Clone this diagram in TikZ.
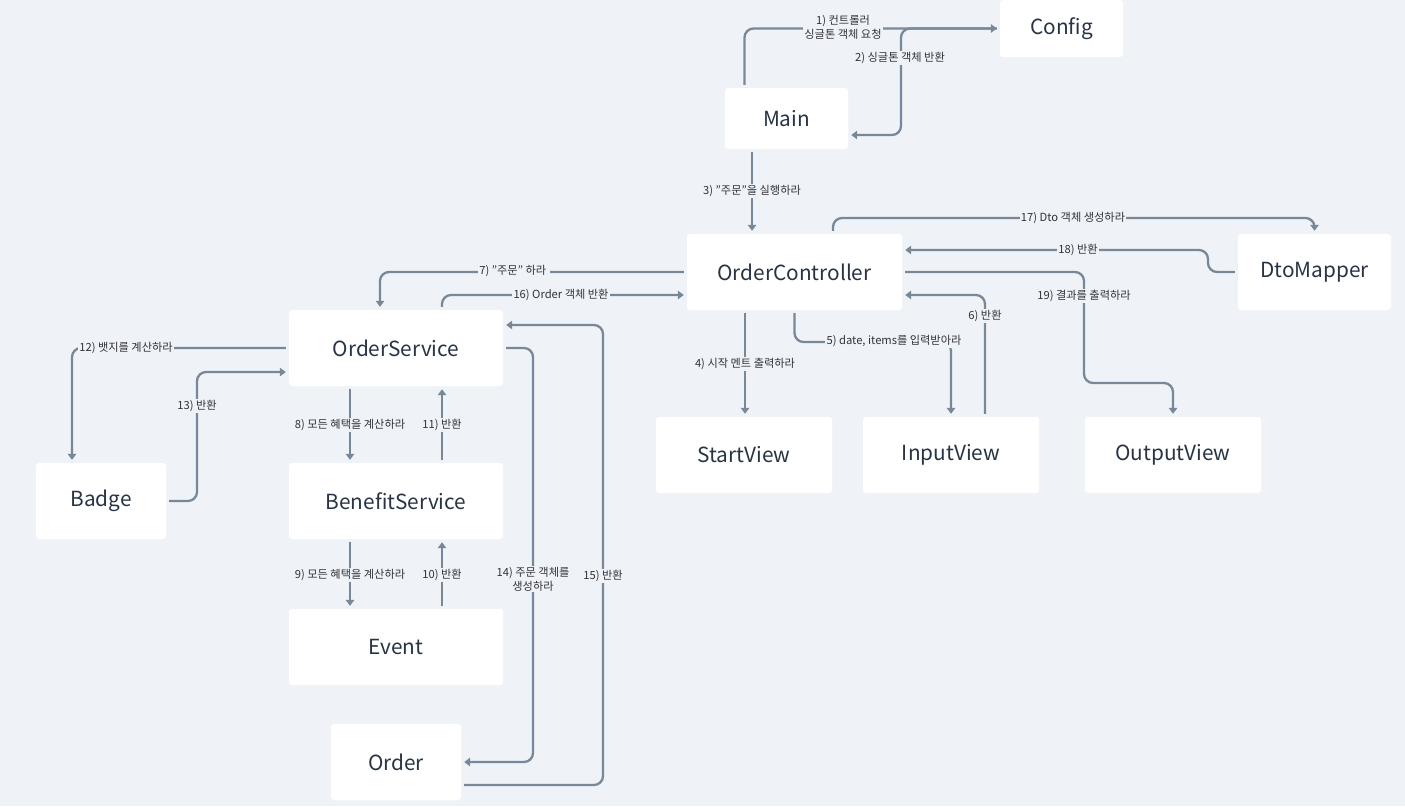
\documentclass[tikz,border=0pt]{standalone}
\usepackage{fontspec}
\setmainfont{Noto Sans CJK KR}
\usetikzlibrary{arrows.meta}
\definecolor{bg}{RGB}{239,243,247}
\definecolor{ln}{RGB}{120,136,153}
\definecolor{tx}{RGB}{40,52,68}
\definecolor{lt}{RGB}{50,50,55}
\tikzset{
  box/.style={fill=white, rounded corners=3pt, text=tx, font=\fontsize{20.8}{24}\selectfont, inner sep=0pt},
  conn/.style={draw=ln, line width=2.3pt, rounded corners=9pt, -{Triangle[length=6pt,width=8.5pt]}, shorten >=3pt, shorten <=3pt},
  lbl/.style={fill=bg, text=lt, font=\fontsize{11.2}{14}\selectfont, inner sep=1.2pt, align=center}
}
\begin{document}
\begin{tikzpicture}[x=1pt,y=-1pt]
\useasboundingbox (0,0) rectangle (1405,806);
\fill[bg] (0,0) rectangle (1405,806);
% nodes
\node[box, minimum width=123pt, minimum height=57pt] (config) at (1061.5,28.5) {Config};
\node[box, minimum width=123pt, minimum height=61pt] (main) at (786.5,118.5) {Main};
\node[box, minimum width=215pt, minimum height=76pt] (oc) at (794.5,272) {OrderController};
\node[box, minimum width=153pt, minimum height=76pt] (dto) at (1314.5,272) {DtoMapper};
\node[box, minimum width=176pt, minimum height=76pt] (startv) at (744,455) {StartView};
\node[box, minimum width=176pt, minimum height=76pt] (inv) at (951,455) {InputView};
\node[box, minimum width=176pt, minimum height=76pt] (outv) at (1173,455) {OutputView};
\node[box, minimum width=214pt, minimum height=76pt] (os) at (396,348) {OrderService};
\node[box, minimum width=214pt, minimum height=76pt] (bs) at (396,501) {BenefitService};
\node[box, minimum width=214pt, minimum height=76pt] (ev) at (396,647) {Event};
\node[box, minimum width=130pt, minimum height=76pt] (badge) at (101,501) {Badge};
\node[box, minimum width=130pt, minimum height=76pt] (order) at (396,762) {Order};
% bend coordinates
\coordinate (c2) at (901,135);
\coordinate (c17) at (833,218);
\coordinate (c18) at (1208,250);
\coordinate (c19) at (1084,383);
\coordinate (c6) at (985,295);
\coordinate (c5) at (794.5,342);
\coordinate (c13) at (197,372);
\coordinate (c14) at (533,349);
\coordinate (c15) at (603,325);
% connectors
\draw[conn] ([xshift=-42pt]main.north) |- (config.west);
\draw[conn] (config.west) -| (c2) -- (c2 -| main.east);
\draw[conn] ([xshift=-34.5pt]main.south) -- ([xshift=-42.5pt]oc.north);
\draw[conn] (oc.north -| c17) -- (c17) -| (dto.north);
\draw[conn] (dto.west) -| (c18) -- (c18 -| oc.east);
\draw[conn] (oc.east) -| (c19) -| (outv.north);
\draw[conn] ([xshift=34pt]inv.north) |- (oc.east |- c6);
\draw[conn] (oc.south) |- (inv.north |- c5) -- (inv.north);
\draw[conn] ([xshift=-49.5pt]oc.south) -- ([xshift=-49.5pt]oc.south |- startv.north);
\draw[conn] (oc.west) -| ([xshift=-16pt]os.north);
\draw[conn] ([xshift=46pt]os.north) |- ([yshift=-23pt]oc.west);
\draw[conn] (os.west) -| ([xshift=-29pt]badge.north);
\draw[conn] (badge.east) -| (c13) -- (c13 -| os.west);
\draw[conn] ([xshift=-46pt]os.south) -- ([xshift=-46pt]bs.north);
\draw[conn] ([xshift=46pt]bs.north) -- ([xshift=46pt]os.south);
\draw[conn] ([xshift=-46pt]bs.south) -- ([xshift=-46pt]ev.north);
\draw[conn] ([xshift=46pt]ev.north) -- ([xshift=46pt]bs.south);
\draw[conn] (os.east) -| (order.east -| c14) -- (order.east);
\draw[conn] ([yshift=-23pt]order.east) -| (c15) -- (c15 -| os.east);
% labels
\node[lbl] (l1) at (843,27) {1) 컨트롤러\\싱글톤 객체 요청};
\node[lbl] (l2) at (900,58) {2) 싱글톤 객체 반환};
\node[lbl] (l3) at (752,191) {3) "주문"을 실행하라};
\node[lbl] (l17) at (1073,218) {17) Dto 객체 생성하라};
\node[lbl] (l18) at (1078,250) {18) 반환};
\node[lbl] (l19) at (1084,296) {19) 결과를 출력하라};
\node[lbl] (l6) at (985,316) {6) 반환};
\node[lbl] (l5) at (894,341) {5) date, items를 입력받아라};
\node[lbl] (l4) at (745,364) {4) 시작 멘트 출력하라};
\node[lbl] (l7) at (514,271) {7) "주문" 하라\ };
\node[lbl] (l16) at (561,295) {16) Order 객체 반환};
\node[lbl] (l12) at (126,348) {12) 뱃지를 계산하라};
\node[lbl] (l13) at (197,406) {13) 반환};
\node[lbl] (l8) at (350,425) {8) 모든 혜택을 계산하라};
\node[lbl] (l11) at (442,425) {11) 반환};
\node[lbl] (l9) at (350,575) {9) 모든 혜택을 계산하라};
\node[lbl] (l10) at (442,575) {10) 반환};
\node[lbl] (l14) at (533,579) {14) 주문 객체를\\생성하라};
\node[lbl] (l15) at (603,576) {15) 반환};
\end{tikzpicture}
\end{document}
